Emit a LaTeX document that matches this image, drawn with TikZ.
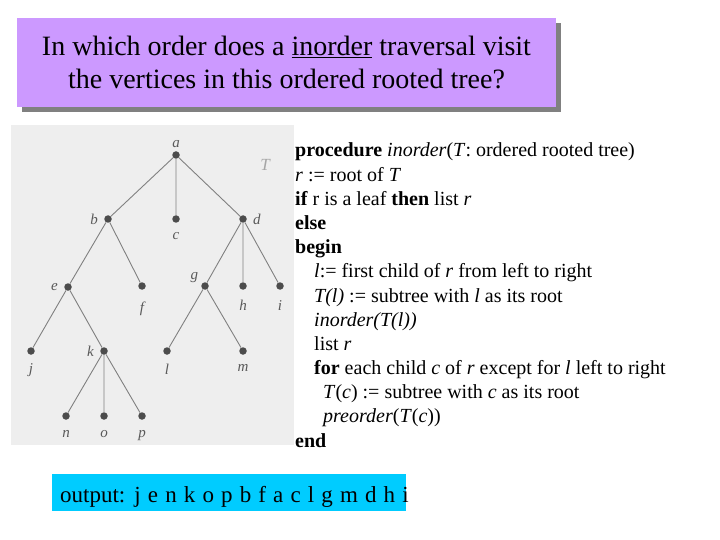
\documentclass[tikz,border=0pt]{standalone}
\usepackage{fontspec}
\setmainfont{Liberation Serif}
\definecolor{titlebg}{RGB}{204,153,255}
\definecolor{outbg}{RGB}{0,204,255}
\definecolor{treebg}{RGB}{238,238,238}
\begin{document}
\begin{tikzpicture}[x=1pt,y=-1pt,
 dot/.style={circle,fill=black!70,inner sep=0pt,minimum size=7.5pt},
 edge/.style={draw=black!50,line width=0.9pt},
 lab/.style={text=black!65,font=\fontsize{15}{15}\selectfont\itshape,inner sep=1pt},
 code/.style={anchor=base west,inner sep=0pt,font=\fontsize{20}{24}\selectfont}]
\useasboundingbox (0,0) rectangle (720,540);
\fill[white] (0,0) rectangle (720,540);
% title
\fill[black!50] (22,23) rectangle (561,112);
\node (title) [fill=titlebg, minimum width=539pt, minimum height=89pt, inner sep=0pt, align=center,
  font=\fontsize{28}{33}\selectfont] at (286.5,62.5)
  {In which order does a \underline{inorder} traversal visit\\ the vertices in this ordered rooted tree?};
% tree background
\fill[treebg] (11,125) rectangle (294,445);
% tree nodes
\node[dot,label={[lab,label distance=2pt]above:a}] (a) at (176,155) {};
\node[dot,label={[lab,label distance=5pt]left:b}] (b) at (108,219) {};
\node[dot,label={[lab,label distance=8pt]below:c}] (c) at (176,219) {};
\node[dot,label={[lab,label distance=5pt]right:d}] (d) at (243,219) {};
\node[dot,label={[lab,label distance=5pt]left:e}] (e) at (68,287) {};
\node[dot,label={[lab,label distance=11pt]below:f}] (f) at (142,286) {};
\node[dot,label={[lab,label distance=2pt]160:g}] (g) at (205,286) {};
\node[dot,label={[lab,label distance=9pt]below:h}] (h) at (243,286) {};
\node[dot,label={[lab,label distance=9pt]below:i}] (i) at (280,286) {};
\node[dot,label={[lab,label distance=7pt]below:j}] (j) at (31,351) {};
\node[dot,label={[lab,label distance=5pt]left:k}] (k) at (104,351) {};
\node[dot,label={[lab,label distance=8pt]below:l}] (l) at (167,351) {};
\node[dot,label={[lab,label distance=8pt]below:m}] (m) at (243,351) {};
\node[dot,label={[lab,label distance=9pt]below:n}] (n) at (66,416) {};
\node[dot,label={[lab,label distance=9pt]below:o}] (o) at (104,416) {};
\node[dot,label={[lab,label distance=9pt]below:p}] (p) at (142,416) {};
\node (T) [lab, text=black!35, font=\fontsize{17}{17}\selectfont\itshape] at (265,165) {T};
\draw[edge] (a) -- (b) (a) -- (c) (a) -- (d)
  (b) -- (e) (b) -- (f) (d) -- (g) (d) -- (h) (d) -- (i)
  (e) -- (j) (e) -- (k) (g) -- (l) (g) -- (m)
  (k) -- (n) (k) -- (o) (k) -- (p);
% code
\node[code] (c1) at (295,157) {\textbf{procedure} \textit{inorder}(\textit{T}: ordered rooted tree)};
\node[code] (c2) at (295,181.2) {\textit{r} := root of \textit{T}};
\node[code] (c3) at (295,205.3) {\textbf{if} r is a leaf \textbf{then} list \textit{r}};
\node[code] (c4) at (295,229.5) {\textbf{else}};
\node[code] (c5) at (295,253.7) {\textbf{begin}};
\node[code] (c6) at (314,277.8) {\textit{l}:= first child of \textit{r} from left to right};
\node[code] (c7) at (314,302) {\textit{T(l)} := subtree with \textit{l} as its root};
\node[code] (c8) at (314,326.2) {\textit{inorder(T(l))}};
\node[code] (c9) at (314,350.3) {list \textit{r}};
\node[code] (c10) at (314,374.5) {\textbf{for} each child \textit{c} of \textit{r} except for \textit{l} left to right};
\node[code] (c11) at (323,398.7) {\textit{T}(\textit{c}) := subtree with \textit{c} as its root};
\node[code] (c12) at (323,422.8) {\textit{preorder}(\textit{T}(\textit{c}))};
\node[code] (c13) at (295,447) {\textbf{end}};
% output
\node (out) [fill=outbg, anchor=north west, minimum width=354pt, minimum height=37pt, inner sep=0pt] at (52,474) {};
\node (outtext) [anchor=base west, inner sep=0pt, font=\fontsize{23}{23}\selectfont] at (60,502)
  {\spaceskip=0.31em output: j e n k o p b f a c l g m d h i};
\end{tikzpicture}
\end{document}
